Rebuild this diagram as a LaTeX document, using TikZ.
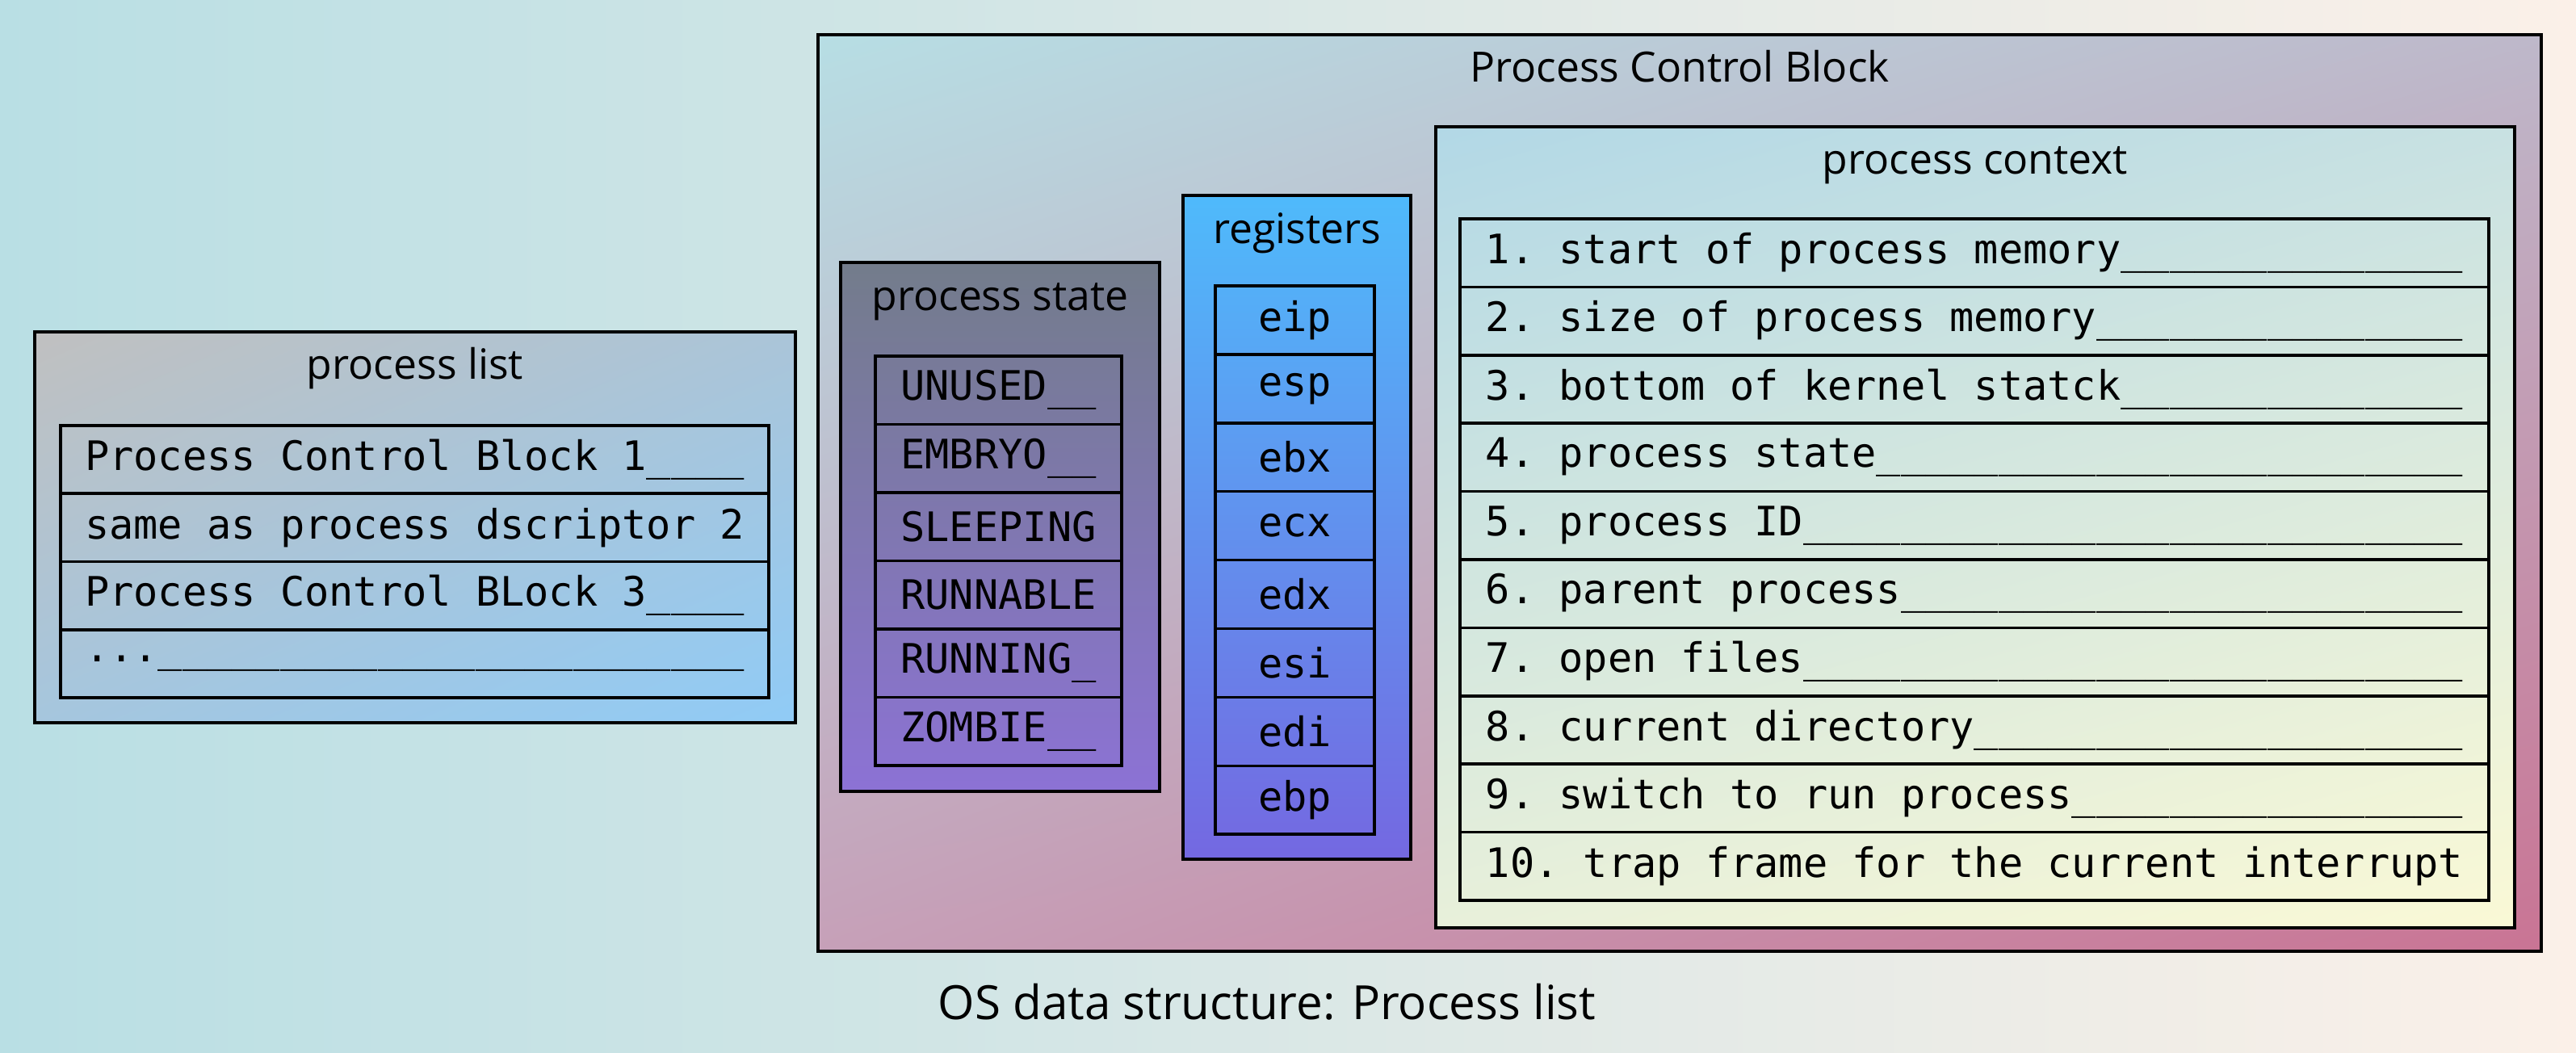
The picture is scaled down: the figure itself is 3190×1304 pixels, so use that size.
\documentclass[tikz,border=0pt]{standalone}
\usepackage{fontspec}
\setmainfont{Open Sans}
\setmonofont{DejaVu Sans Mono}
\usetikzlibrary{positioning,shadings}
\definecolor{bgleft}{HTML}{B9DFE4}
\definecolor{bgright}{HTML}{FBF0E8}
\definecolor{plgray}{HTML}{C0C0C0}
\definecolor{plblue}{HTML}{90CBF6}
\definecolor{pcbcyan}{HTML}{B7DEE4}
\definecolor{pcblav}{HTML}{BEB8CA}
\definecolor{pcbrose}{HTML}{C6A0B8}
\definecolor{pcbpink}{HTML}{C97494}
\definecolor{stgray}{HTML}{737C8B}
\definecolor{stviolet}{HTML}{8C72D5}
\definecolor{regsky}{HTML}{4FBAFB}
\definecolor{regindigo}{HTML}{7468E1}
\definecolor{ctxblue}{HTML}{B2D8E6}
\definecolor{ctxmint}{HTML}{C8E1E2}
\definecolor{ctxpale}{HTML}{E8F0DA}
\definecolor{ctxcream}{HTML}{FAF9D6}
% n underscores, to pad a field name to full width
\newcommand{\blanks}[1]{\ifnum#1>0 \_\expandafter\blanks\expandafter{\the\numexpr#1-1\relax}\fi}

\begin{document}
\begin{tikzpicture}[x=0.1mm,y=-0.1mm,
 box/.style={draw,line width=1pt,outer sep=0pt,inner sep=0pt,anchor=north west},
 title/.style={font=\fontsize{14.7pt}{17pt}\selectfont},
 row/.style={draw,line width=1pt,outer sep=0pt,inner xsep=0pt,anchor=north west,
  font=\ttfamily\fontsize{14.3pt}{17pt}\selectfont\frenchspacing},
 listrow/.style={row,minimum width=87.7mm,minimum height=8.425mm},
 ctxrow/.style={row,minimum width=127.4mm,minimum height=8.44mm},
 staterow/.style={row,minimum width=30.5mm,minimum height=8.45mm},
 regrow/.style={row,minimum width=19.7mm,minimum height=8.49mm}]
\shade[left color=bgleft,right color=bgright] (0,0) rectangle (3190,1304);

% process list
\node[box,minimum width=94.2mm,minimum height=48.4mm,
 upper left=plgray,upper right=plgray!55!plblue,lower left=plgray!45!plblue,
 lower right=plblue] (plist) at (43,411) {};
\node[title] (plisttitle) at ([yshift=-4.5mm]plist.north) {process list};
\foreach \t [count=\i] in {Process Control Block 1\blanks{4},
  same as process dscriptor 2,
  Process Control BLock 3\blanks{4},
  {...}\blanks{24}}
  \node[listrow] (pl\i) at (75,{527+(\i-1)*84.25}) {\t};

% process control block
\node[box,minimum width=213.4mm,minimum height=113.5mm,
 upper left=pcbcyan,upper right=pcblav,lower left=pcbrose,
 lower right=pcbpink] (pcb) at (1013,43) {};
\node[title] (pcbtitle) at ([yshift=-3.9mm]pcb.north) {Process Control Block};

% process state
\node[box,minimum width=39.5mm,minimum height=65.5mm,
 upper left=stgray,upper right=stgray,lower left=stviolet,
 lower right=stviolet] (pstate) at (1041,325) {};
\node[title] (pstatetitle) at ([yshift=-4.9mm]pstate.north) {process state};
\foreach \t [count=\i] in {UNUSED\blanks{2},EMBRYO\blanks{2},SLEEPING,RUNNABLE,
  RUNNING\blanks{1},ZOMBIE\blanks{2}}
  \node[staterow] (st\i) at (1084,{441+(\i-1)*84.5}) {\t};

% registers
\node[box,minimum width=28.2mm,minimum height=82.2mm,
 upper left=regsky,upper right=regsky,lower left=regindigo,
 lower right=regindigo] (regs) at (1465,242) {};
\node[title] (regstitle) at ([yshift=-4.7mm]regs.north) {registers};
\foreach \t [count=\i] in {eip,esp,ebx,ecx,edx,esi,edi,ebp}
  \node[regrow] (reg\i) at (1505,{354+(\i-1)*84.9}) {\t};

% process context
\node[box,minimum width=133.6mm,minimum height=99.2mm,
 upper left=ctxblue,upper right=ctxmint,lower left=ctxpale,
 lower right=ctxcream] (pctx) at (1778,157) {};
\node[title] (pctxtitle) at ([yshift=-4.8mm]pctx.north) {process context};
\foreach \t [count=\i] in {1. start of process memory\blanks{14},
  2. size of process memory\blanks{15},
  3. bottom of kernel statck\blanks{14},
  4. process state\blanks{24},
  5. process ID\blanks{27},
  6. parent process\blanks{23},
  7. open files\blanks{27},
  8. current directory\blanks{20},
  9. switch to run process\blanks{16},
  10. trap frame for the current interrupt}
  \node[ctxrow] (ctx\i) at (1808,{271+(\i-1)*84.4}) {\t};

\node[font=\fontsize{16.6pt}{20pt}\selectfont] (caption) at (1569,1241)
 {OS data structure: Process list};
\end{tikzpicture}
\end{document}
